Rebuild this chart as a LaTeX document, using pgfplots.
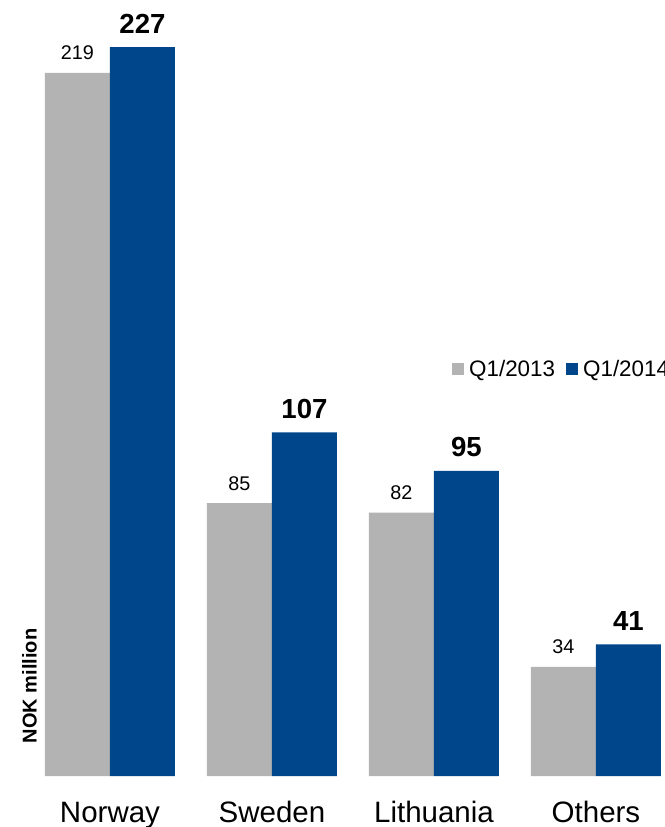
\documentclass[border=0pt]{standalone}
\usepackage{pgfplots}
\pgfplotsset{compat=1.18}
\usepackage{fontspec}
\setmainfont{Liberation Sans}
\definecolor{cgray}{RGB}{179,179,179}
\definecolor{cblue}{RGB}{0,70,139}
\begin{document}
\begin{tikzpicture}
\begin{axis}[
  at={(0pt,51pt)}, anchor=south west,
  scale only axis, width=664pt, height=776pt,
  xmin=-0.679, xmax=3.420, ymin=0, ymax=241.7,
  ybar=0pt, bar width=65pt,
  axis line style={draw=none}, major tick length=0pt,
  ytick=\empty,
  xtick={0,1,2,3},
  xticklabels={Norway,Sweden,Lithuania,Others},
  xticklabel style={font=\fontsize{29.5}{30}\selectfont, anchor=base, yshift=-46pt},
  /pgf/number format/assume math mode=true,
  ylabel={NOK million},
  every axis y label/.style={at={(rel axis cs:0.0444,0.116)}, rotate=90, anchor=center, font=\fontsize{20}{22}\selectfont\bfseries},
  legend style={at={(rel axis cs:0.6807,0.5245)}, anchor=west, draw=none, fill=none,
    legend columns=-1, font=\fontsize{22.4}{24}\selectfont, inner sep=0pt,
    /tikz/every even column/.append style={column sep=9pt}},
  legend image code/.code={\fill[#1] (0pt,-6pt) rectangle (12pt,6pt); \path (15pt,0pt);},
  clip=false,
]
\addplot[fill=cgray, draw=none, nodes near coords,
  every node near coord/.append style={font=\fontsize{19.8}{20}\selectfont, anchor=base, yshift=13pt, inner sep=0pt}]
  coordinates {(0,219) (1,85) (2,82) (3,34)};
\addplot[fill=cblue, draw=none, nodes near coords,
  every node near coord/.append style={font=\fontsize{27.6}{28}\selectfont\bfseries, anchor=base, yshift=14pt, inner sep=0pt}]
  coordinates {(0,227) (1,107) (2,95) (3,41)};
\legend{Q1/2013, Q1/2014}
\end{axis}
\pgfresetboundingbox
\useasboundingbox (0pt,0pt) rectangle (664pt,827pt);
\end{tikzpicture}
\end{document}
